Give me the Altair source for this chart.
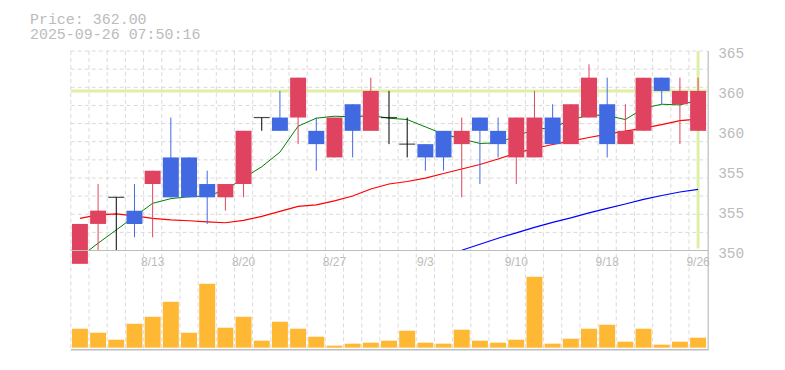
import altair as alt
import pandas as pd

# ---------------- data ----------------
dates = ["8/6", "8/7", "8/8", "8/12", "8/13", "8/14", "8/15", "8/18", "8/19", "8/20",
         "8/21", "8/22", "8/25", "8/26", "8/27", "8/28", "8/29", "9/1", "9/2", "9/3",
         "9/4", "9/5", "9/8", "9/9", "9/10", "9/11", "9/12", "9/16", "9/17", "9/18",
         "9/19", "9/22", "9/24", "9/25", "9/26"]
opens = [349, 352, 354, 353, 355, 357, 357, 355, 354, 355,
         360, 360, 360, 359, 357, 361, 359, 360, 358, 358,
         359, 358, 360, 359, 357, 357, 360, 358, 360, 361,
         358, 359, 363, 361, 359]
highs = [352, 355, 354, 355, 356, 360, 357, 356, 355, 359,
         360, 362, 363, 360, 360, 361, 363, 362, 360, 358,
         359, 360, 360, 360, 360, 362, 361, 361, 364, 363,
         361, 363, 363, 363, 363]
lows = [349, 350, 350, 351, 351, 354, 354, 352, 353, 354,
        359, 359, 358, 356, 357, 357, 359, 358, 357, 356,
        356, 354, 355, 357, 355, 357, 358, 358, 360, 357,
        358, 359, 361, 358, 359]
closes = [352, 353, 354, 352, 356, 354, 354, 354, 355, 359,
          360, 359, 363, 358, 360, 359, 362, 360, 358, 357,
          357, 359, 359, 358, 360, 360, 358, 361, 363, 358,
          359, 363, 362, 362, 362]
volumes = [1900, 1500, 800, 2400, 3100, 4600, 1500, 6400, 2000, 3100,
           700, 2600, 1900, 1100, 200, 400, 500, 700, 1700, 500,
           400, 1800, 700, 500, 800, 7100, 400, 900, 1900, 2300,
           600, 1900, 300, 600, 1000]
ma_short = [349.5, 350.55, 351.55, 352.55, 353.55, 353.9, 354.05, 354.1, 354.55, 355.45,
            356.3, 357.4, 359.35, 359.95, 360.1, 360.05, 360.15, 359.95, 359.85, 359.3,
            358.75, 358.4, 358.05, 358.1, 358.6, 359.1, 359.25, 359.8, 360.2, 360.15,
            359.85, 360.7, 361.0, 360.95, 361.3]
ma_mid = [352.42, 352.68, 352.75, 352.6, 352.42, 352.3, 352.24, 352.15, 352.09, 352.27,
          352.57, 352.94, 353.32, 353.43, 353.73, 354.1, 354.63, 355.0, 355.19, 355.45,
          355.79, 356.13, 356.47, 356.88, 357.33, 357.67, 357.97, 358.23, 358.5, 358.75,
          358.98, 359.2, 359.47, 359.77, 359.88]
ma_long_start = 21
ma_long = [350.02, 350.47, 350.92, 351.33, 351.74, 352.12, 352.45, 352.83, 353.17, 353.5,
           353.84, 354.14, 354.4, 354.6]
current_price = 362
title_lines = ["Price: 362.00", "2025-09-26 07:50:16"]
x_label_dates = ["8/13", "8/20", "8/27", "9/3", "9/10", "9/18", "9/26"]
y_tick_values = [350, 353, 356, 359, 362, 365]
y_tick_labels = ["350", "355", "355", "360", "360", "365"]

# ---------------- styling ----------------
RED = "#e0435f"
BLUE = "#4169e1"
VOL = "#ffb833"
LIGHT = "#dfefa6"
GRID = "#dadada"
AXIS = "#bdbdbd"
TXT = "#bbbbbb"
W, H = 638, 200
VOL_BASE, VOL_TOP = 297.4, 226.4

n = len(dates)
df = pd.DataFrame({"i": list(range(n)), "date": dates, "o": opens, "h": highs,
                   "l": lows, "c": closes, "v": volumes, "v0": [0] * n,
                   "ma_s": ma_short, "ma_m": ma_mid})
df["col"] = ["black" if c == o else (RED if c > o else BLUE) for o, c in zip(opens, closes)]
df_long = pd.DataFrame({"i": list(range(ma_long_start, ma_long_start + len(ma_long))),
                        "ma_l": ma_long})
body_df = df[df["o"] != df["c"]]
doji_df = df[df["o"] == df["c"]]
lab_df = df[df["date"].isin(x_label_dates)]
tick_df = pd.DataFrame({"tv": y_tick_values, "tl": y_tick_labels})
one = pd.DataFrame({"k": [0]})
cur_df = pd.DataFrame({"p": [current_price], "i": [n - 1]})
vg_df = pd.DataFrame({"gx": [k - 0.5 for k in range(n)]})
hg_df = pd.DataFrame({"gy": list(range(11))})

XS = alt.Scale(domain=[-0.5, n - 0.5], nice=False, zero=False, padding=0)
PY = alt.Scale(domain=[350, 365], range=[H, 0], nice=False, zero=False, padding=0)
VY = alt.Scale(domain=[0, max(volumes)], range=[VOL_BASE, VOL_TOP], nice=False, zero=False, padding=0)
X = alt.X("i:Q", scale=XS, axis=None)

vgrid = alt.Chart(vg_df).mark_rule(stroke=GRID, strokeDash=[4, 3], strokeWidth=1).encode(
    x=alt.X("gx:Q", scale=XS, axis=None), y=alt.value(0), y2=alt.value(299.6))
hgrid = alt.Chart(hg_df).mark_rule(stroke=GRID, strokeDash=[4, 3], strokeWidth=1).encode(
    y=alt.Y("gy:Q", scale=alt.Scale(domain=[0, 11], range=[0, H], nice=False, zero=False), axis=None),
    x=alt.value(0), x2=alt.value(W))
cur_h = alt.Chart(cur_df).mark_rule(stroke=LIGHT, strokeWidth=3).encode(
    y=alt.Y("p:Q", scale=PY, axis=None), x=alt.value(0), x2=alt.value(W))
cur_v = alt.Chart(cur_df).mark_rule(stroke=LIGHT, strokeWidth=3).encode(
    x=X, y=alt.value(0), y2=alt.value(H - 2))

line_s = alt.Chart(df).mark_line(clip=True, color="#008000", strokeWidth=1).encode(
    x=X, y=alt.Y("ma_s:Q", scale=PY, axis=None))
line_m = alt.Chart(df).mark_line(clip=True, color="#ff0000", strokeWidth=1.2).encode(
    x=X, y=alt.Y("ma_m:Q", scale=PY, axis=None))
line_l = alt.Chart(df_long).mark_line(clip=True, color="#0000ff", strokeWidth=1.2).encode(
    x=X, y=alt.Y("ma_l:Q", scale=PY, axis=None))

vol = alt.Chart(df).mark_bar(size=16, color=VOL).encode(
    x=X, y=alt.Y("v:Q", scale=VY, axis=None), y2="v0:Q")

wick = alt.Chart(df).mark_rule(strokeWidth=1).encode(
    x=X, y=alt.Y("l:Q", scale=PY, axis=None), y2="h:Q",
    color=alt.Color("col:N", scale=None))
body = alt.Chart(body_df).mark_bar(size=16).encode(
    x=X, y=alt.Y("o:Q", scale=PY, axis=None), y2="c:Q",
    color=alt.Color("col:N", scale=None))
doji = alt.Chart(doji_df).mark_tick(orient="horizontal", size=16, thickness=1.2, color="black").encode(
    x=X, y=alt.Y("c:Q", scale=PY, axis=None))

axis_main = alt.Chart(one).mark_rule(stroke=AXIS, strokeWidth=1.2).encode(
    x=alt.value(0), x2=alt.value(W + 1), y=alt.value(H))
axis_vol = alt.Chart(one).mark_rule(stroke=AXIS, strokeWidth=1.5).encode(
    x=alt.value(0), x2=alt.value(W + 1), y=alt.value(299.6))
border_r = alt.Chart(one).mark_rule(stroke=AXIS, strokeWidth=1.2).encode(
    x=alt.value(W + 1), y=alt.value(0), y2=alt.value(300))

xlab = alt.Chart(lab_df).mark_text(font="Liberation Sans", fontSize=12, color=TXT,
                                   baseline="alphabetic", align="center").encode(
    x=X, y=alt.value(216), text="date:N")
ylab = alt.Chart(tick_df).mark_text(font="Liberation Mono", fontSize=14.5, color=TXT,
                                    baseline="alphabetic", align="left", dy=7.3).encode(
    x=alt.value(649), y=alt.Y("tv:Q", scale=PY, axis=None), text="tl:N")
t1 = alt.Chart(one).mark_text(font="Liberation Mono", fontSize=15, color=TXT,
                              baseline="alphabetic", align="left").encode(
    x=alt.value(-41), y=alt.value(-27), text=alt.value(title_lines[0]))
t2 = alt.Chart(one).mark_text(font="Liberation Mono", fontSize=15, color=TXT,
                              baseline="alphabetic", align="left").encode(
    x=alt.value(-41), y=alt.value(-12.2), text=alt.value(title_lines[1]))

chart = alt.layer(
    vgrid, hgrid, cur_h, cur_v, line_s, line_m, line_l, vol, wick, body, doji,
    axis_main, axis_vol, border_r, xlab, ylab, t1, t2
).resolve_scale(y="independent").properties(
    width=W, height=H,
    autosize=alt.AutoSizeParams(type="none"),
    padding={"left": 63, "top": 42.7, "right": 70, "bottom": 112},
    background="white",
).configure_view(stroke=None)

chart.save("out.html", embed_options={"renderer": "svg", "actions": False})
